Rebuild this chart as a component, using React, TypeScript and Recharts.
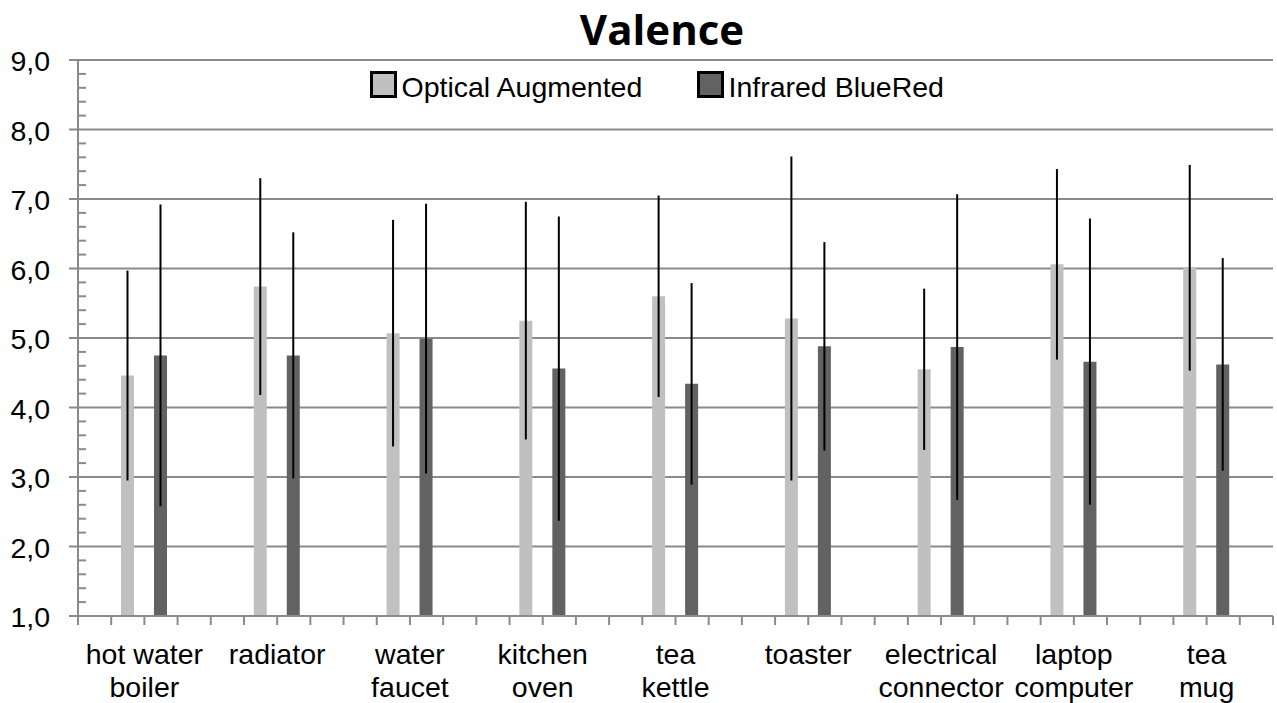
import { Bar, BarChart, CartesianGrid, ErrorBar, XAxis, YAxis } from 'recharts';

const CATEGORIES = [
  'hot water\nboiler',
  'radiator',
  'water\nfaucet',
  'kitchen\noven',
  'tea\nkettle',
  'toaster',
  'electrical\nconnector',
  'laptop\ncomputer',
  'tea\nmug',
];
const OPTICAL = [4.46, 5.74, 5.07, 5.25, 5.6, 5.28, 4.55, 6.06, 6.01];
const OPTICAL_SD = [1.51, 1.56, 1.63, 1.71, 1.45, 2.33, 1.16, 1.37, 1.48];
const INFRARED = [4.75, 4.75, 4.99, 4.56, 4.34, 4.88, 4.87, 4.66, 4.62];
const INFRARED_SD = [2.17, 1.77, 1.94, 2.19, 1.45, 1.5, 2.2, 2.06, 1.53];
const Y_TICKS = [1, 2, 3, 4, 5, 6, 7, 8, 9];
const SERIES = [
  { key: 'optical', err: 'opticalSd', name: 'Optical Augmented', color: '#c0c0c0' },
  { key: 'infrared', err: 'infraredSd', name: 'Infrared BlueRed', color: '#626262' },
];

const W = 1277;
const H = 703;
const AXIS_X = 78;
const TOP = 60;
const RIGHT = 4;
const X_AXIS_H = 87;
const PLOT_BOTTOM = H - X_AXIS_H;
const BAND = (W - AXIS_X - RIGHT) / CATEGORIES.length;
const UNIT = (PLOT_BOTTOM - TOP) / (Y_TICKS.length - 1);
const GRID = '#8a8a8a';
const FONT = '"Liberation Sans", Arial, sans-serif';

const data = CATEGORIES.map((name, i) => ({
  name,
  optical: OPTICAL[i],
  opticalSd: OPTICAL_SD[i],
  infrared: INFRARED[i],
  infraredSd: INFRARED_SD[i],
}));

function YTick({ y, payload }: any) {
  const v = payload.value as number;
  const minors = v > Y_TICKS[0] ? [1, 2, 3, 4] : [];
  return (
    <g>
      {minors.map((k) => (
        <line
          key={k}
          x1={AXIS_X}
          x2={AXIS_X + 8}
          y1={y + (k * UNIT) / 5}
          y2={y + (k * UNIT) / 5}
          stroke={GRID}
          strokeWidth={2}
        />
      ))}
      <text x={AXIS_X - 28} y={y} dy={11} textAnchor="end" fontSize={28.5} fontFamily={FONT} fill="#000">
        {v.toFixed(1).replace('.', ',')}
      </text>
    </g>
  );
}

function XTick({ x, payload, index }: any) {
  const lines = String(payload.value).split('\n');
  const marks = index === CATEGORIES.length - 1 ? [0, 1, 2, 3, 4] : [0, 1, 2, 3];
  return (
    <g>
      {marks.map((k) => {
        const xx = x - BAND / 2 + (k * BAND) / 4;
        return <line key={k} x1={xx} x2={xx} y1={PLOT_BOTTOM} y2={PLOT_BOTTOM + 9} stroke={GRID} strokeWidth={2} />;
      })}
      {lines.map((line, i) => (
        <text key={i} x={x} y={664 + i * 33} textAnchor="middle" fontSize={28.5} fontFamily={FONT} fill="#000">
          {line}
        </text>
      ))}
    </g>
  );
}

export default function App() {
  return (
    <div style={{ position: 'absolute', left: 0, top: 0, width: W, height: H, background: '#fff' }}>
      <BarChart
        width={W}
        height={H}
        data={data}
        margin={{ top: TOP, right: RIGHT, bottom: 0, left: 0 }}
        barSize={13}
        barGap={20}
      >
        <CartesianGrid horizontal vertical={false} stroke={GRID} strokeWidth={2} horizontalValues={Y_TICKS} />
        <XAxis
          dataKey="name"
          height={X_AXIS_H}
          interval={0}
          tickLine={false}
          axisLine={{ stroke: GRID, strokeWidth: 2 }}
          tick={<XTick />}
        />
        <YAxis
          width={AXIS_X}
          domain={[1, 9]}
          ticks={Y_TICKS}
          interval={0}
          tickSize={9}
          tickLine={{ stroke: GRID, strokeWidth: 2 }}
          axisLine={{ stroke: GRID, strokeWidth: 2 }}
          tick={<YTick />}
        />
        {SERIES.map((s) => (
          <Bar key={s.key} dataKey={s.key} name={s.name} fill={s.color} isAnimationActive={false}>
            <ErrorBar dataKey={s.err} width={0} stroke="#000" strokeWidth={2} direction="y" isAnimationActive={false} />
          </Bar>
        ))}
      </BarChart>
      <svg width={W} height={H} style={{ position: 'absolute', left: 0, top: 0, pointerEvents: 'none' }}>
        <text x={662} y={45} textAnchor="middle" fontSize={42} fontWeight={700} fontFamily='"Open Sans", sans-serif' fill="#000">
          Valence
        </text>
        {SERIES.map((s, i) => {
          const x0 = i === 0 ? 371.5 : 698.5;
          return (
            <g key={s.key}>
              <rect x={x0} y={72.5} width={24} height={24} fill={s.color} stroke="#000" strokeWidth={3} />
              <text x={x0 + 30} y={97} fontSize={28.5} fontFamily={FONT} fill="#000">
                {s.name}
              </text>
            </g>
          );
        })}
      </svg>
    </div>
  );
}
